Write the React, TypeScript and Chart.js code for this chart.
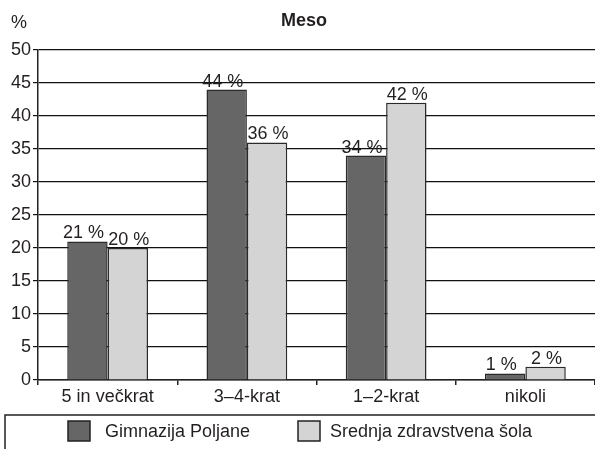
import React, { useEffect, useRef } from "react";
import { Chart, registerables } from "chart.js";

Chart.register(...registerables);

const categories = ["5 in večkrat", "3–4-krat", "1–2-krat", "nikoli"];
const seriesNames = ["Gimnazija Poljane", "Srednja zdravstvena šola"];
const gimnazija = [21, 44, 34, 1];
const srednja = [20, 36, 42, 2];
const yTicks = [0, 5, 10, 15, 20, 25, 30, 35, 40, 45, 50];
const title = "Meso";
const unitLabel = "%";

const FONT = "Arial, 'Liberation Sans', sans-serif";
const TEXT = "#231f20";
const labelShift = [-4, 1];

const labelsPlugin = {
  id: "valueLabels",
  afterDatasetsDraw(chart: any) {
    const ctx = chart.ctx;
    ctx.save();
    ctx.font = `18px ${FONT}`;
    ctx.fillStyle = TEXT;
    ctx.textAlign = "center";
    ctx.textBaseline = "alphabetic";
    chart.data.datasets.forEach((ds: any, di: number) => {
      const meta = chart.getDatasetMeta(di);
      meta.data.forEach((bar: any, i: number) => {
        ctx.fillText(`${ds.data[i]} %`, bar.x + labelShift[di], bar.y - 3);
      });
    });
    ctx.restore();
  },
};

const decorPlugin = {
  id: "decor",
  afterDraw(chart: any) {
    const ctx = chart.ctx;
    ctx.save();
    // title
    ctx.fillStyle = TEXT;
    ctx.font = `bold 18px ${FONT}`;
    ctx.textAlign = "center";
    ctx.textBaseline = "middle";
    ctx.fillText(title, 304, 21);
    // unit
    ctx.font = `18px ${FONT}`;
    ctx.fillText(unitLabel, 19, 23);
    // legend box
    const top = 415;
    ctx.strokeStyle = "#222";
    ctx.lineWidth = 1.5;
    ctx.beginPath();
    ctx.moveTo(5, chart.height + 2);
    ctx.lineTo(5, top);
    ctx.lineTo(chart.width + 2, top);
    ctx.stroke();
    const items = [
      { x: 68, textX: 105 },
      { x: 298, textX: 330 },
    ];
    chart.data.datasets.forEach((ds: any, di: number) => {
      const it = items[di];
      ctx.fillStyle = ds.backgroundColor;
      ctx.fillRect(it.x, 421, 22, 20);
      ctx.strokeStyle = "#222";
      ctx.lineWidth = 1.5;
      ctx.strokeRect(it.x, 421, 22, 20);
      ctx.fillStyle = TEXT;
      ctx.font = `18px ${FONT}`;
      ctx.textAlign = "left";
      ctx.textBaseline = "middle";
      ctx.fillText(ds.label, it.textX, 432);
    });
    ctx.restore();
  },
};

export default function App() {
  const ref = useRef<HTMLCanvasElement>(null);
  useEffect(() => {
    const chart = new Chart(ref.current!, {
      type: "bar",
      data: {
        labels: categories,
        datasets: [
          {
            label: seriesNames[0],
            data: gimnazija,
            backgroundColor: "#666666",
            borderColor: "#2a2a2a",
            borderWidth: 1.5,
            borderSkipped: "bottom",
            categoryPercentage: 0.58,
            barPercentage: 1,
          },
          {
            label: seriesNames[1],
            data: srednja,
            backgroundColor: "#d4d4d4",
            borderColor: "#2a2a2a",
            borderWidth: 1.5,
            borderSkipped: "bottom",
            categoryPercentage: 0.58,
            barPercentage: 1,
          },
        ],
      },
      options: {
        animation: false,
        responsive: true,
        maintainAspectRatio: false,
        layout: { padding: { top: 50, right: 0, left: 0, bottom: 34 } },
        plugins: {
          legend: { display: false },
          title: { display: false },
          tooltip: { enabled: false },
        },
        scales: {
          x: {
            afterFit(scale: any) {
              scale.height = 35;
            },
            grid: {
              drawOnChartArea: false,
              drawTicks: true,
              tickLength: 5,
              color: "#222",
              lineWidth: 1.5,
            },
            border: { display: true, color: "#222", width: 1.5 },
            ticks: {
              color: TEXT,
              font: { size: 18, family: FONT },
              padding: 1,
              maxRotation: 0,
            },
          },
          y: {
            min: 0,
            max: 50,
            afterFit(scale: any) {
              scale.width = 38;
            },
            afterBuildTicks(scale: any) {
              scale.ticks = yTicks.map((v) => ({ value: v }));
            },
            grid: {
              color: "#111",
              lineWidth: 1.2,
              tickLength: 5,
              drawTicks: true,
            },
            border: { display: true, color: "#222", width: 1.5 },
            ticks: {
              color: TEXT,
              font: { size: 18, family: FONT },
              padding: 2,
            },
          },
        },
      },
      plugins: [labelsPlugin, decorPlugin],
    });
    return () => chart.destroy();
  }, []);
  return (
    <div style={{ position: "absolute", left: 0, top: 0, width: 595, height: 449, background: "#fff" }}>
      <canvas ref={ref} />
    </div>
  );
}
